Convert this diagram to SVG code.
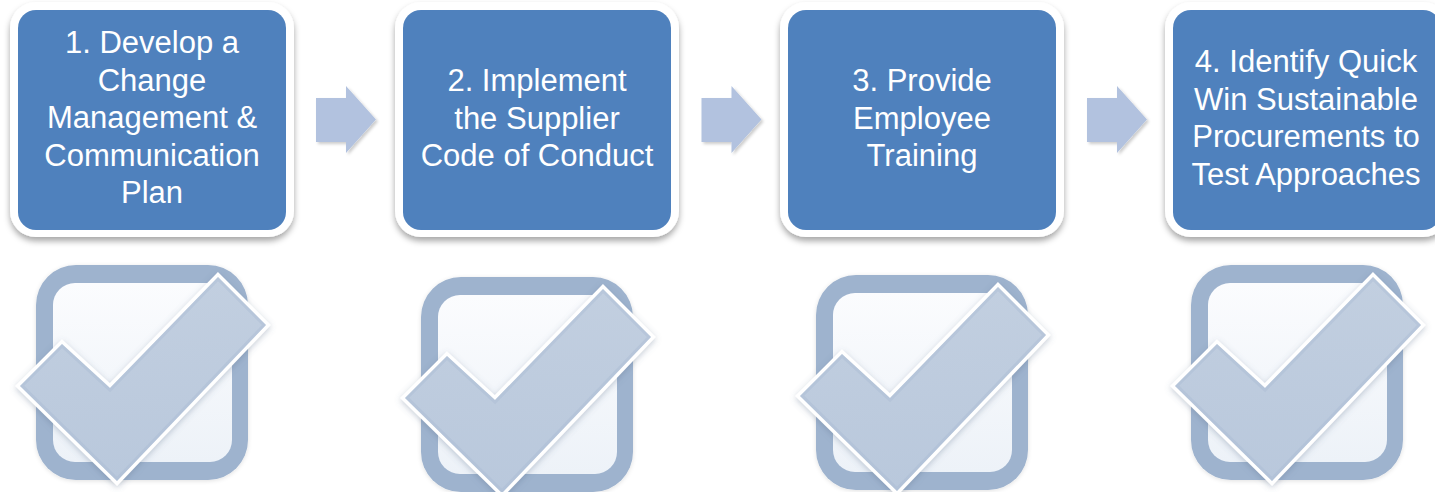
<svg xmlns="http://www.w3.org/2000/svg" width="1435" height="492" viewBox="0 0 1435 492">
  <style>
    .frame { fill: #ffffff; filter: url(#frameShadow); }
    .blue { fill: #4f81bd; }
    .label { font-family: "Liberation Sans", Arial, sans-serif; font-size: 31px; fill: #ffffff; text-anchor: middle; }
    .arrow { fill: #b2c2df; filter: url(#arrowShadow); }
    .cbOuter { fill: #9eb3ce; filter: url(#softShadow); }
    .cbInner { fill: url(#innerGrad); }
    .tick { fill: url(#tickGrad); stroke: #ffffff; stroke-width: 7; stroke-linejoin: miter; paint-order: stroke; filter: url(#tickShadow); }
    .tickBevel { fill: none; stroke: #a5b8d0; stroke-width: 6; opacity: 0.35; }
  </style>
  <defs>
    <filter id="frameShadow" x="-10%" y="-10%" width="120%" height="125%">
      <feDropShadow dx="0" dy="4" stdDeviation="3" flood-color="#000000" flood-opacity="0.35"/>
    </filter>
    <filter id="arrowShadow" x="-20%" y="-20%" width="150%" height="150%">
      <feDropShadow dx="2" dy="2" stdDeviation="1.5" flood-color="#000000" flood-opacity="0.2"/>
    </filter>
    <filter id="softShadow" x="-10%" y="-10%" width="120%" height="120%">
      <feDropShadow dx="0" dy="1" stdDeviation="2" flood-color="#000000" flood-opacity="0.12"/>
    </filter>
    <filter id="tickShadow" x="-15%" y="-15%" width="130%" height="130%">
      <feDropShadow dx="0" dy="2" stdDeviation="3" flood-color="#5a6f8c" flood-opacity="0.35"/>
    </filter>
    <linearGradient id="innerGrad" x1="0" y1="0" x2="0" y2="1">
      <stop offset="0" stop-color="#fbfcfe"/>
      <stop offset="1" stop-color="#edf2f8"/>
    </linearGradient>
    <linearGradient id="tickGrad" x1="0" y1="0" x2="0" y2="1">
      <stop offset="0" stop-color="#c2cfe0"/>
      <stop offset="1" stop-color="#b9c8dc"/>
    </linearGradient>
    <polygon id="tickShape" points="20,386 62,344 110,388 218,277 266,325 117,481"/>
    <clipPath id="tickClip">
      <polygon points="20,386 62,344 110,388 218,277 266,325 117,481"/>
    </clipPath>
    <g id="checkbox">
      <rect class="cbOuter" x="36" y="265" width="212" height="215" rx="40"/>
      <rect class="cbInner" x="53" y="283" width="179" height="179" rx="22"/>
      <use href="#tickShape" class="tick"/>
      <use href="#tickShape" class="tickBevel" clip-path="url(#tickClip)"/>
    </g>
  </defs>

  <g id="step1">
    <rect class="frame" x="10" y="2" width="284" height="235" rx="26"/>
    <rect class="blue" x="18" y="10" width="268" height="220" rx="18"/>
    <text class="label" x="152" y="53">1. Develop a</text>
    <text class="label" x="152" y="90.5">Change</text>
    <text class="label" x="152" y="128">Management &amp;</text>
    <text class="label" x="152" y="165.5">Communication</text>
    <text class="label" x="152" y="203">Plan</text>
  </g>

  <g id="step2">
    <rect class="frame" x="395" y="2" width="284" height="235" rx="26"/>
    <rect class="blue" x="403" y="10" width="268" height="220" rx="18"/>
    <text class="label" x="537" y="91">2. Implement</text>
    <text class="label" x="537" y="128.5">the Supplier</text>
    <text class="label" x="537" y="166">Code of Conduct</text>
  </g>

  <g id="step3">
    <rect class="frame" x="780" y="2" width="284" height="235" rx="26"/>
    <rect class="blue" x="788" y="10" width="268" height="220" rx="18"/>
    <text class="label" x="922" y="91">3. Provide</text>
    <text class="label" x="922" y="128.5">Employee</text>
    <text class="label" x="922" y="166">Training</text>
  </g>

  <g id="step4">
    <rect class="frame" x="1165" y="2" width="284" height="235" rx="26"/>
    <rect class="blue" x="1173" y="10" width="268" height="220" rx="18"/>
    <text class="label" x="1306" y="72">4. Identify Quick</text>
    <text class="label" x="1306" y="109.5">Win Sustainable</text>
    <text class="label" x="1306" y="147">Procurements to</text>
    <text class="label" x="1306" y="184.5">Test Approaches</text>
  </g>

  <g id="connectors">
    <polygon class="arrow" points="316,98 346,98 346,86 376,119.5 346,153 346,142 316,142"/>
    <polygon class="arrow" points="701.5,98 731.5,98 731.5,86 761.5,119.5 731.5,153 731.5,142 701.5,142"/>
    <polygon class="arrow" points="1087,98 1117,98 1117,86 1147,119.5 1117,153 1117,142 1087,142"/>
  </g>

  <g id="check1"><use href="#checkbox"/></g>
  <g id="check2"><use href="#checkbox" transform="translate(385,12)"/></g>
  <g id="check3"><use href="#checkbox" transform="translate(780,10)"/></g>
  <g id="check4"><use href="#checkbox" transform="translate(1155,0)"/></g>
</svg>
